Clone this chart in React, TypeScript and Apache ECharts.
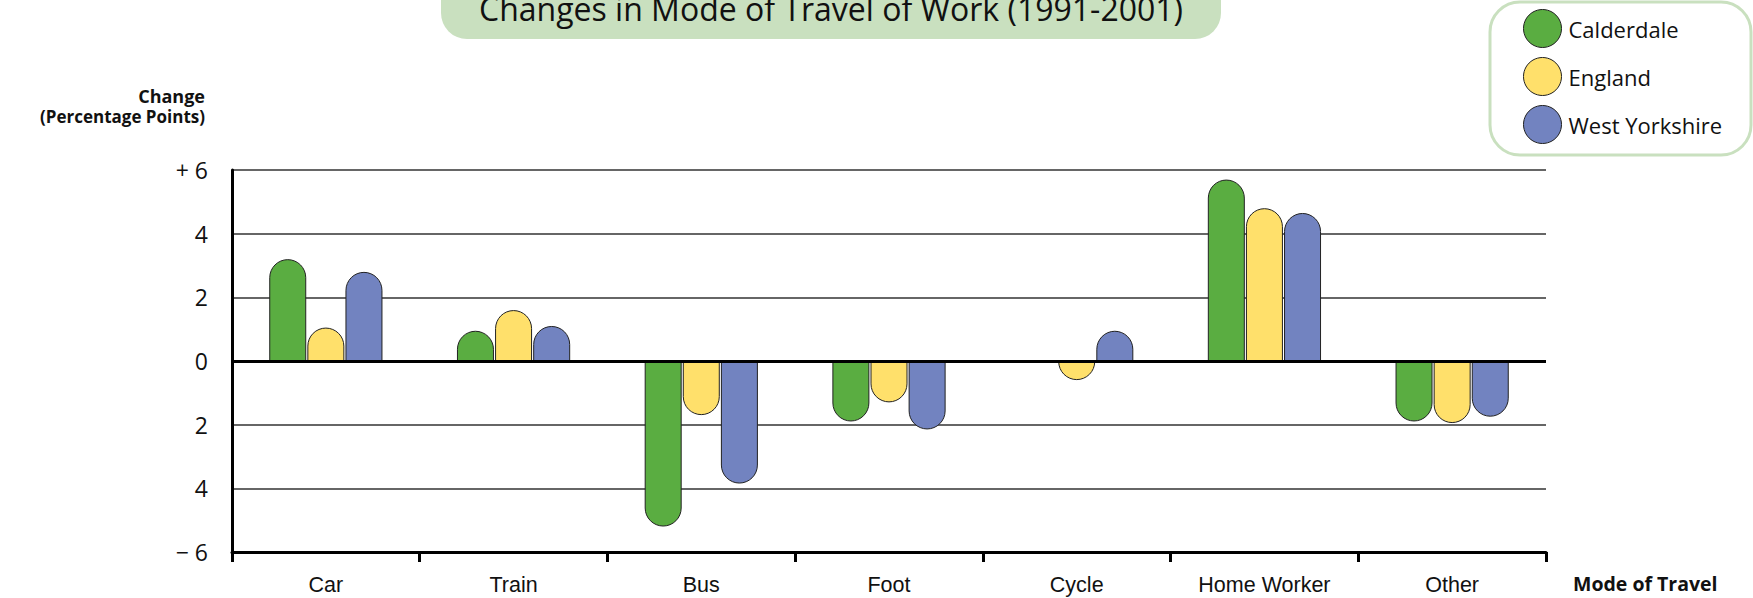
import React, { useEffect, useRef } from "react";
import * as echarts from "echarts";

const categories = ["Car", "Train", "Bus", "Foot", "Cycle", "Home Worker", "Other"];
const seriesNames = ["Calderdale", "England", "West Yorkshire"];
const calderdale = [3.2, 0.95, -5.2, -1.9, 0, 5.7, -1.9];
const england = [1.05, 1.6, -1.7, -1.3, -0.6, 4.8, -1.95];
const westYorkshire = [2.8, 1.1, -3.85, -2.15, 0.95, 4.65, -1.75];
const colors = ["#5aad41", "#ffe06b", "#7283c0"];
const titleText = "Changes in Mode of Travel of Work (1991-2001)";

const R = 18.5;

function toItems(values: number[]) {
  return values.map((v) => ({
    value: v,
    itemStyle: { borderRadius: v >= 0 ? [R, R, 0, 0] : [0, 0, R, R] },
  }));
}

export default function App() {
  const ref = useRef<HTMLDivElement>(null);
  useEffect(() => {
    if (!ref.current) return;
    const chart = echarts.init(ref.current, undefined, { renderer: "svg" });
    const allValues = [calderdale, england, westYorkshire];
    const series: any[] = allValues.map((vals, i) => ({
      name: seriesNames[i],
      type: "bar",
      data: toItems(vals),
      barWidth: 37,
      barGap: "3%",
      itemStyle: { color: colors[i], borderColor: "#222", borderWidth: 1 },
      ...(i === 0
        ? {
            markLine: {
              silent: true,
              symbol: ["none", "none"],
              label: { show: false },
              lineStyle: { color: "#000", width: 3, type: "solid" },
              data: [{ yAxis: 0 }],
            },
          }
        : {}),
    }));
    chart.setOption({
      animation: false,
      textStyle: { fontFamily: "Open Sans" },
      grid: { left: 232, right: 207, top: 170, bottom: 46 },
      legend: {
        orient: "vertical",
        left: 1518,
        top: 4,
        itemWidth: 38,
        itemHeight: 38,
        itemGap: 9,
        icon: "circle",
        itemStyle: { borderColor: "#222", borderWidth: 1 },
        textStyle: { fontSize: 22, color: "#111", fontFamily: "Open Sans", padding: [0, 0, 0, 2] },
        data: seriesNames,
      },
      xAxis: {
        type: "category",
        data: categories,
        axisLine: { onZero: false, lineStyle: { color: "#000", width: 3 } },
        axisTick: { show: true, length: 10, lineStyle: { color: "#000", width: 3 } },
        axisLabel: { fontSize: 21.5, color: "#111", margin: 22, fontFamily: "Liberation Sans" },
        splitLine: { show: false },
      },
      yAxis: {
        type: "value",
        min: -6,
        max: 6,
        interval: 2,
        axisLine: { show: true, lineStyle: { color: "#000", width: 3 } },
        axisTick: { show: false },
        axisLabel: {
          fontSize: 23,
          color: "#111",
          margin: 24,
          formatter: (v: number) => (v === 6 ? "+ 6" : v === -6 ? "\u2212 6" : String(Math.abs(v))),
        },
        splitLine: { show: true, lineStyle: { color: "#333", width: 1.5 } },
      },
      graphic: [
        {
          type: "rect",
          shape: { x: 441, y: -40, width: 780, height: 79, r: 26 },
          style: { fill: "#c9e0bf" },
          z: 0,
        },
        {
          type: "text",
          x: 831,
          y: 8,
          style: {
            text: titleText,
            fontSize: 32,
            fontFamily: "Open Sans",
            fill: "#111",
            textAlign: "center",
            textVerticalAlign: "middle",
          },
          z: 1,
        },
        {
          type: "rect",
          shape: { x: 1490, y: 2, width: 261, height: 153, r: 30 },
          style: { fill: "#fff", stroke: "#c9e0bf", lineWidth: 3 },
          z: -1,
        },
        {
          type: "text",
          x: 205,
          y: 96,
          style: {
            text: "Change",
            fontSize: 18,
            fontWeight: "bold",
            fontFamily: "Open Sans",
            fill: "#111",
            textAlign: "right",
            textVerticalAlign: "middle",
          },
        },
        {
          type: "text",
          x: 205,
          y: 116,
          style: {
            text: "(Percentage Points)",
            fontSize: 17,
            fontWeight: "bold",
            fontFamily: "Open Sans",
            fill: "#111",
            textAlign: "right",
            textVerticalAlign: "middle",
          },
        },
        {
          type: "text",
          x: 1573,
          y: 583,
          style: {
            text: "Mode of Travel",
            fontSize: 19.5,
            fontWeight: "bold",
            fontFamily: "Open Sans",
            fill: "#111",
            textAlign: "left",
            textVerticalAlign: "middle",
          },
        },
      ],
      series,
    });
    return () => chart.dispose();
  }, []);
  return (
    <div
      ref={ref}
      style={{ position: "fixed", left: 0, top: 0, width: 1753, height: 598, background: "#fff" }}
    />
  );
}
